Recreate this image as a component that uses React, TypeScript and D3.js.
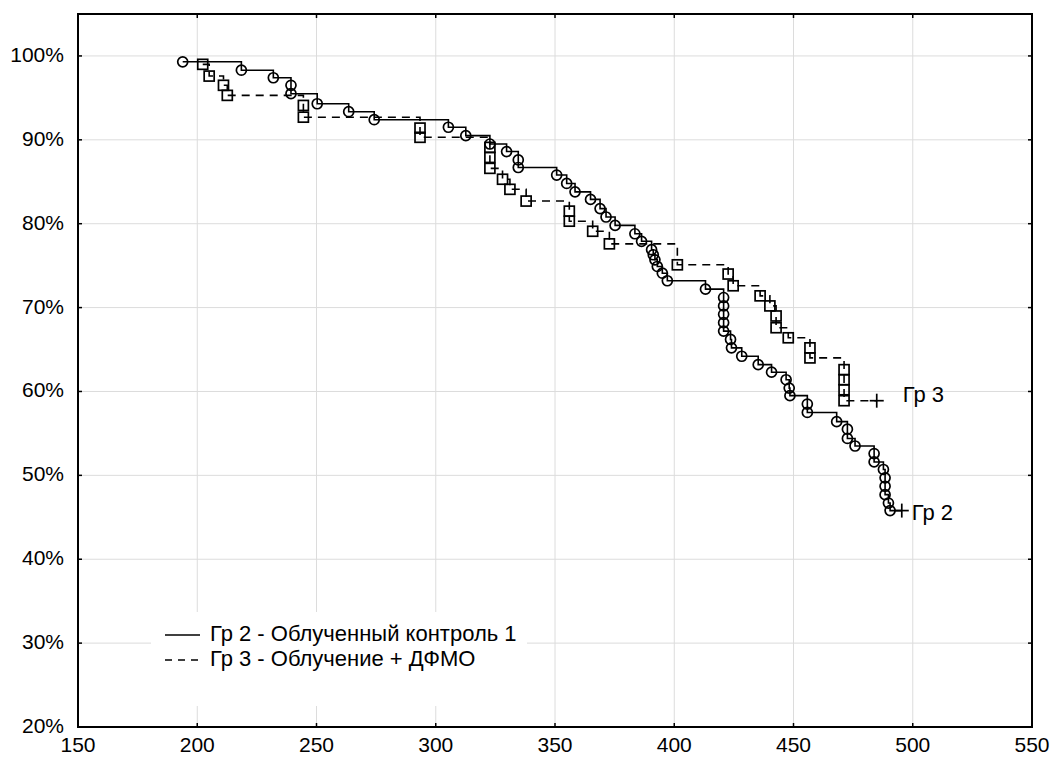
import React from "react";
import * as d3 from "d3";

const xTicks = [150, 200, 250, 300, 350, 400, 450, 500, 550];
const yTicks = [20, 30, 40, 50, 60, 70, 80, 90, 100];

// Group 2 events (time, survival %)
const g2Time = [193.9, 218.5, 231.9, 239.3, 239.3, 250.3, 263.5, 274.2, 305.3, 312.6, 322.7, 329.7, 334.6, 334.6, 350.7, 354.9, 358.4, 364.9, 368.9, 371.4, 375.2, 383.5, 386.3, 390.5, 391.2, 391.9, 392.9, 395.0, 397.1, 413.1, 420.7, 420.7, 420.7, 420.7, 420.7, 423.6, 424.0, 428.3, 435.2, 440.8, 446.9, 448.2, 448.5, 455.8, 455.8, 468.1, 472.6, 472.6, 475.8, 483.8, 483.8, 487.7, 488.4, 488.4, 488.4, 489.8, 490.5];
const g2Surv = [99.3, 98.3, 97.4, 96.5, 95.5, 94.3, 93.35, 92.4, 91.5, 90.5, 89.5, 88.6, 87.6, 86.7, 85.8, 84.8, 83.8, 82.9, 81.8, 80.8, 79.8, 78.8, 77.9, 76.9, 76.3, 75.7, 74.9, 74.1, 73.2, 72.2, 71.2, 70.2, 69.2, 68.2, 67.2, 66.2, 65.2, 64.2, 63.2, 62.3, 61.4, 60.4, 59.5, 58.5, 57.5, 56.4, 55.5, 54.4, 53.5, 52.6, 51.6, 50.7, 49.7, 48.7, 47.7, 46.7, 45.8];
const g2Censor = [495.4, 45.8];

// Group 3 events
const g3Time = [202.3, 205.0, 211.0, 212.6, 244.5, 244.5, 293.4, 293.4, 322.7, 322.7, 322.7, 328.0, 331.1, 337.9, 356.0, 356.0, 365.8, 372.8, 401.3, 422.6, 424.7, 436.0, 440.1, 442.7, 442.7, 447.8, 456.9, 456.9, 471.2, 471.2, 471.2, 471.2];
const g3Surv = [99.0, 97.6, 96.5, 95.3, 94.1, 92.7, 91.4, 90.3, 89.1, 87.9, 86.6, 85.3, 84.1, 82.7, 81.5, 80.3, 79.1, 77.6, 75.1, 74.0, 72.6, 71.4, 70.2, 69.0, 67.6, 66.4, 65.2, 64.0, 62.6, 61.4, 60.2, 58.9];
const g3Censor = [484.9, 58.9];

const legendLabels = ["Гр 2 - Облученный контроль 1", "Гр 3 - Облучение + ДФМО"];
const endLabels = ["Гр 2", "Гр 3"];

const FONT = "Arial, 'Liberation Sans', sans-serif";

export default function App() {
  const W = 1051, H = 760;
  const x = d3.scaleLinear().domain([150, 550]).range([78, 1032]);
  const y = d3.scaleLinear().domain([20, 105]).range([727, 14]);

  const g2pts: [number, number][] = g2Time.map((t, i) => [t, g2Surv[i]]);
  const g3pts: [number, number][] = g3Time.map((t, i) => [t, g3Surv[i]]);
  const line = d3.line<[number, number]>().x(d => x(d[0])).y(d => y(d[1])).curve(d3.curveStepAfter);
  const g2Path = line([...g2pts, [g2Censor[0], g2Censor[1]]]) || "";
  const g3Path = line([...g3pts, [g3Censor[0], g3Censor[1]]]) || "";

  const x0 = x(150), x1 = x(550), yTop = y(105), yBot = y(20);

  const plus = (cx: number, cy: number, k: string) => (
    <g key={k} stroke="#000" strokeWidth={1.7}>
      <line x1={cx - 7} x2={cx + 7} y1={cy} y2={cy} />
      <line x1={cx} x2={cx} y1={cy - 7} y2={cy + 7} />
    </g>
  );

  return (
    <svg width={W} height={H} style={{ position: "absolute", left: 0, top: 0, background: "#fff" }} fontFamily={FONT}>
      <rect x={0} y={0} width={W} height={H} fill="#fff" />
      {/* grid */}
      {yTicks.filter(v => v > 20).map(v => (
        <line key={"gy" + v} x1={x0} x2={x1} y1={y(v)} y2={y(v)} stroke="#dcdcdc" strokeWidth={1} />
      ))}
      {xTicks.filter(v => v > 150 && v < 550).map(v => (
        <line key={"gx" + v} x1={x(v)} x2={x(v)} y1={yTop} y2={yBot} stroke="#dcdcdc" strokeWidth={1} />
      ))}
      {/* legend background */}
      <rect x={151} y={612} width={376} height={94} fill="#fff" />
      {/* frame */}
      <rect x={x0} y={yTop} width={x1 - x0} height={yBot - yTop} fill="none" stroke="#000" strokeWidth={2} />
      {/* ticks inward */}
      {xTicks.map(v => (
        <g key={"tx" + v} stroke="#000" strokeWidth={1.5}>
          <line x1={x(v)} x2={x(v)} y1={yBot} y2={yBot - 4} />
          <line x1={x(v)} x2={x(v)} y1={yTop} y2={yTop + 4} />
        </g>
      ))}
      {yTicks.map(v => (
        <g key={"ty" + v} stroke="#000" strokeWidth={1.5}>
          <line x1={x0} x2={x0 + 4} y1={y(v)} y2={y(v)} />
          <line x1={x1} x2={x1 - 4} y1={y(v)} y2={y(v)} />
        </g>
      ))}
      {/* tick labels */}
      {xTicks.map(v => (
        <text key={"lx" + v} x={x(v)} y={752} textAnchor="middle" fontSize={21} fill="#000">{v}</text>
      ))}
      {yTicks.map(v => (
        <text key={"ly" + v} x={64} y={y(v) + 6} textAnchor="end" fontSize={21} fill="#000">{v}%</text>
      ))}
      {/* curves */}
      <path d={g2Path} fill="none" stroke="#000" strokeWidth={1.6} />
      <path d={g3Path} fill="none" stroke="#000" strokeWidth={1.6} strokeDasharray="8,6" />
      {g2pts.map((p, i) => (
        <circle key={"c" + i} cx={x(p[0])} cy={y(p[1])} r={5} fill="none" stroke="#000" strokeWidth={1.7} />
      ))}
      {g3pts.map((p, i) => (
        <rect key={"s" + i} x={x(p[0]) - 5} y={y(p[1]) - 5} width={10} height={10} fill="none" stroke="#000" strokeWidth={1.7} />
      ))}
      {plus(x(g2Censor[0]), y(g2Censor[1]), "p2")}
      {plus(x(g3Censor[0]), y(g3Censor[1]), "p3")}
      <text x={x(g2Censor[0]) + 10} y={y(g2Censor[1]) + 9} fontSize={22} fill="#000">{endLabels[0]}</text>
      <text x={x(g3Censor[0]) + 26} y={y(g3Censor[1]) + 1} fontSize={22} fill="#000">{endLabels[1]}</text>
      {/* legend */}
      <line x1={165} x2={200} y1={635} y2={635} stroke="#000" strokeWidth={1.5} />
      <line x1={165} x2={200} y1={660} y2={660} stroke="#000" strokeWidth={1.5} strokeDasharray="7,6" />
      <text x={210} y={641} fontSize={22} fill="#000">{legendLabels[0]}</text>
      <text x={210} y={666} fontSize={22} fill="#000">{legendLabels[1]}</text>
    </svg>
  );
}
